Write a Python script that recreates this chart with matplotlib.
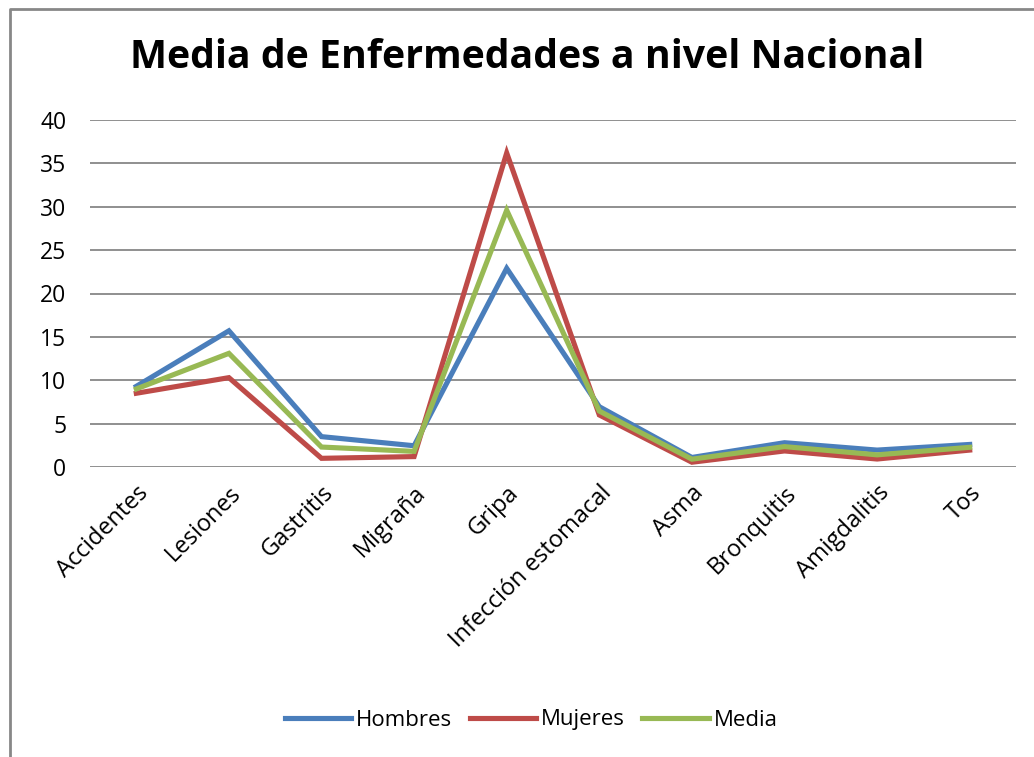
import matplotlib.pyplot as plt
from matplotlib.lines import Line2D

categorias = ['Accidentes', 'Lesiones', 'Gastritis', 'Migraña', 'Gripa',
              'Infección estomacal', 'Asma', 'Bronquitis', 'Amigdalitis', 'Tos']
hombres = [9.3, 15.7, 3.5, 2.45, 22.9, 6.95, 1.1, 2.8, 1.95, 2.6]
mujeres = [8.5, 10.3, 1.0, 1.2, 36.2, 6.0, 0.55, 1.85, 0.92, 1.95]
media = [9.0, 13.1, 2.3, 1.8, 29.6, 6.45, 0.9, 2.35, 1.4, 2.27]
yticks = [0, 5, 10, 15, 20, 25, 30, 35, 40]

plt.rcParams['font.family'] = ['Open Sans', 'DejaVu Sans']

W, H = 1034, 757
fig = plt.figure(figsize=(W / 100, H / 100), dpi=100)
ax = fig.add_axes([90 / W, 1 - 467 / H, (1016 - 90) / W, (467 - 120) / H])

x = range(len(categorias))
ax.plot(x, hombres, color='#4A7EBB', lw=3.7, label='Hombres', solid_joinstyle='miter')
ax.plot(x, mujeres, color='#BE4B48', lw=3.7, label='Mujeres', solid_joinstyle='miter')
ax.plot(x, media, color='#98B954', lw=3.7, label='Media', solid_joinstyle='miter')

ax.set_xlim(-0.5, len(categorias) - 0.5)
ax.set_ylim(0, 40)
ax.set_yticks(yticks)
ax.set_xticks(list(x))
ax.set_xticklabels(categorias, rotation=45, ha='right', rotation_mode='anchor')
ax.tick_params(axis='y', length=0, labelsize=16.5, pad=17)
ax.tick_params(axis='x', length=0, labelsize=17, pad=10)
ax.grid(axis='y', color='#878787', lw=1.3)
ax.set_axisbelow(True)
for s in ax.spines.values():
    s.set_visible(False)

fig.text(527 / W, 1 - 58 / H, 'Media de Enfermedades a nivel Nacional',
         ha='center', va='center', fontsize=28.3, fontweight='bold')

fig.legend(loc='center', bbox_to_anchor=(531 / W, 1 - 720 / H), ncol=3, frameon=False,
           fontsize=16, handlelength=3.0, columnspacing=0.8, handletextpad=0.2)

# borde superior e izquierdo del grafico
fig.lines.append(Line2D([9.5 / W, 9.5 / W, 1], [0, 1 - 8.5 / H, 1 - 8.5 / H],
                        transform=fig.transFigure, color='#878787', lw=2.0))

fig.savefig('out.png', dpi=100)
